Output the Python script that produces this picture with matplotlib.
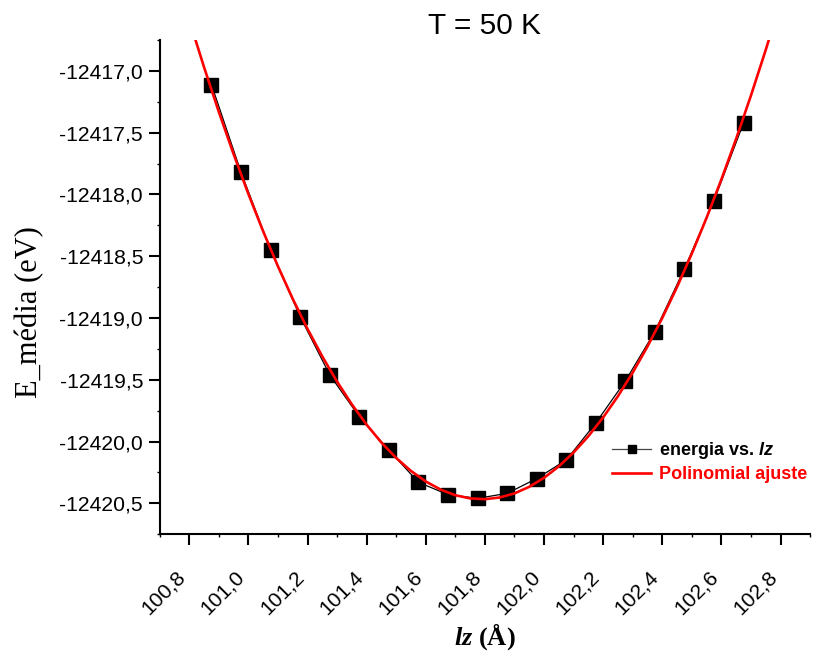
import numpy as np
import matplotlib
matplotlib.use('Agg')
import matplotlib.pyplot as plt
from matplotlib.ticker import MultipleLocator, FuncFormatter

plt.rcParams['font.family'] = ['Liberation Sans', 'DejaVu Sans']
plt.rcParams['mathtext.fontset'] = 'custom'
plt.rcParams['mathtext.it'] = 'Liberation Sans:italic:bold'
plt.rcParams['mathtext.bf'] = 'Liberation Serif:italic:bold'

# lz (Angstrom) and mean energy (eV)
lz = [100.875, 100.975, 101.075, 101.175, 101.275, 101.375, 101.475, 101.575,
      101.675, 101.775, 101.875, 101.975, 102.075, 102.175, 102.275, 102.375,
      102.475, 102.575, 102.675]
energia = [-12417.11, -12417.82, -12418.45, -12418.99, -12419.46, -12419.80,
           -12420.07, -12420.33, -12420.43, -12420.46, -12420.42, -12420.30,
           -12420.15, -12419.85, -12419.51, -12419.11, -12418.60, -12418.05,
           -12417.42]

x = np.array(lz)
y = np.array(energia)
coef = np.polyfit(x - 101.8, y, 2)
xf = np.arange(100.7, 102.91, 0.05)
yf = np.polyval(coef, xf - 101.8)

fig = plt.figure(figsize=(8.15, 6.57), dpi=100)
ax = fig.add_axes([0.196, 0.187, 0.798, 0.752])

ax.plot(x, y, color='black', lw=0.9, marker='s', ms=9.5, mec='black', mfc='black',
        label='energia vs. $lz$', zorder=2)
ax.plot(xf, yf, color='red', lw=1.9, label='Polinomial ajuste', zorder=3)

ax.set_xlim(100.7, 102.9)
ax.set_ylim(-12420.75, -12416.75)
ax.xaxis.set_major_locator(MultipleLocator(0.2))
ax.xaxis.set_minor_locator(MultipleLocator(0.1))
ax.yaxis.set_major_locator(MultipleLocator(0.5))
ax.yaxis.set_minor_locator(MultipleLocator(0.25))
ax.xaxis.set_major_formatter(FuncFormatter(lambda v, p: f'{v:.1f}'.replace('.', ',')))
ax.yaxis.set_major_formatter(FuncFormatter(lambda v, p: f'{v:.1f}'.replace('.', ',')))

for s in ['top', 'right']:
    ax.spines[s].set_visible(False)
for s in ['left', 'bottom']:
    ax.spines[s].set_linewidth(1.5)

ax.tick_params(axis='both', which='major', length=8, width=1.5, labelsize=15.2)
ax.tick_params(axis='both', which='minor', length=2.5, width=1.0)
ax.tick_params(axis='y', which='major', pad=4)
ax.tick_params(axis='x', which='major', pad=16)
plt.setp(ax.get_xticklabels(), rotation=45, ha='right')

ax.set_title('T = 50 K', fontsize=21.5, pad=1)
ax.set_ylabel('E_média (eV)', family='Liberation Serif', fontsize=22)
ax.yaxis.set_label_coords(-0.178, 0.45)
ax.set_xlabel(r'$\mathbf{lz}$ (Å)', family='Liberation Serif', fontweight='bold',
              fontsize=19, labelpad=2)

leg = ax.legend(loc='lower right', bbox_to_anchor=(1.02, 0.07), frameon=False,
                prop={'weight': 'bold', 'size': 13}, handlelength=2.2,
                handletextpad=0.4, labelspacing=0.3, markerscale=0.6)
leg.get_lines()[0].set_color('#444444')
leg.get_lines()[0].set_markerfacecolor('black')
leg.get_lines()[0].set_markeredgecolor('black')
leg.get_texts()[1].set_color('red')

fig.savefig('out.png', dpi=100)
